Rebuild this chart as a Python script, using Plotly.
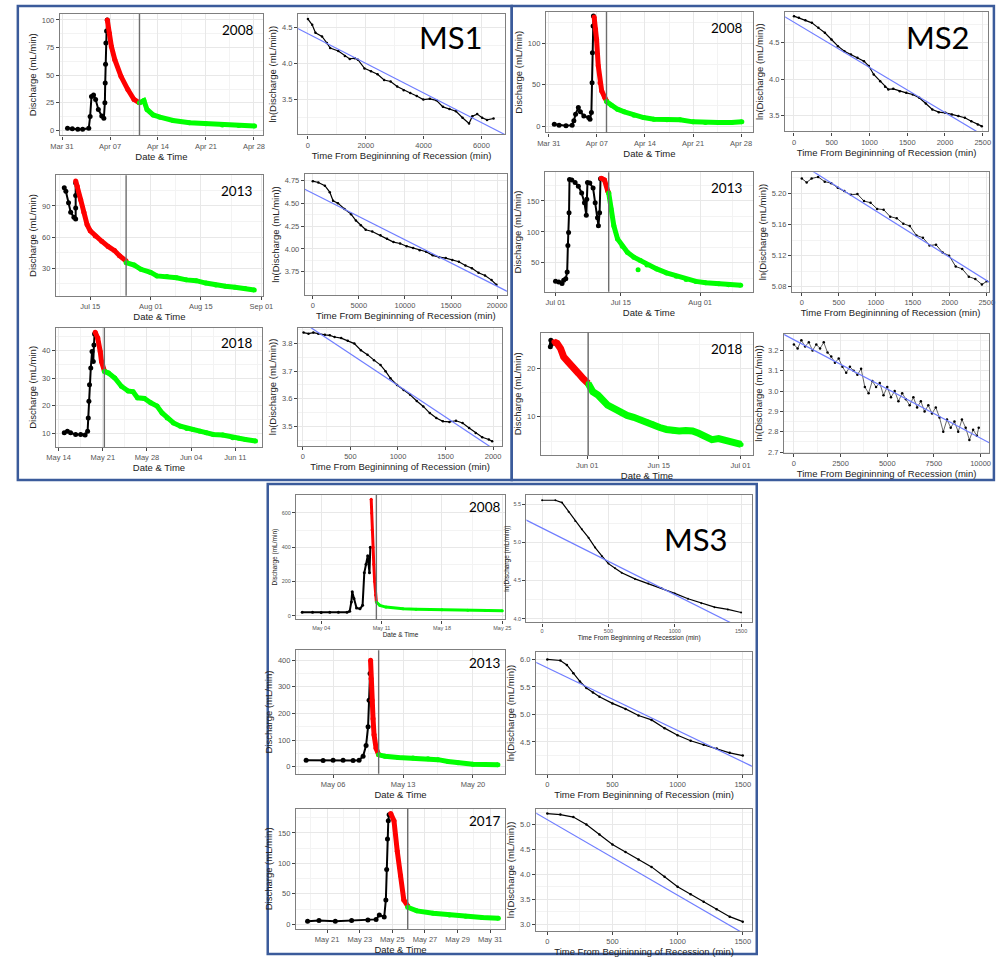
import pandas as pd
import plotly.graph_objects as go

FIG_W, FIG_H = 999, 961

# ======================= DATA =======================
# ---- MS1 2008 (discharge, days after 2008-03-31) ----
ms1_08_base = "2008-03-31"
ms1_08_black_d = [0.8, 1.5, 2.3, 3.0, 3.9, 4.1, 4.3, 4.6, 4.9, 5.3, 5.8, 6.1, 6.25, 6.3, 6.35, 6.4, 6.5, 6.6]
ms1_08_black_q = [2, 1.5, 1, 1.2, 2, 12.6, 30.7, 32, 28, 19, 13, 11, 25, 43, 60, 79, 90, 100]
ms1_08_red_d = [6.6, 6.9, 7.2, 7.7, 8.6, 9.6, 10.5, 11.3]
ms1_08_red_q = [100, 88, 76, 64, 49, 37, 28, 25]
ms1_08_green_d = [11.3, 11.95, 12.4, 13.3, 14.3, 16.2, 18.6, 21.0, 23.4, 25.8, 28.1]
ms1_08_green_q = [25, 27, 19, 14, 12, 9, 7, 6, 5, 4.5, 4]
ms1_08_split = 11.3
ms1_08_xtick_d = [0, 7, 14, 21, 28]
ms1_08_xlabels = ["Mar 31", "Apr 07", "Apr 14", "Apr 21", "Apr 28"]
ms1_08_yticks = [0, 25, 50, 75, 100]
# ln recession
ms1_08_ln_t = [0, 147, 260, 486, 655, 768, 1050, 1277, 1446, 1616, 1729, 1955, 2181, 2407, 2633, 2859,
               3085, 3311, 3537, 3763, 3989, 4215, 4441, 4667, 4893, 5119, 5345, 5571, 5684, 5853, 6023, 6192, 6418]
ms1_08_ln_y = [4.61, 4.53, 4.42, 4.37, 4.28, 4.21, 4.17, 4.10, 4.06, 4.07, 4.05, 3.93, 3.89, 3.85, 3.77, 3.75,
               3.68, 3.63, 3.59, 3.55, 3.50, 3.51, 3.49, 3.40, 3.37, 3.34, 3.25, 3.17, 3.27, 3.30, 3.25, 3.22, 3.24]
ms1_08_fit_t = [-400, 6900]
ms1_08_fit_y = [4.49, 3.00]
ms1_08_ln_xticks = [0, 2000, 4000, 6000]
ms1_08_ln_yticks = [3.5, 4.0, 4.5]

# ---- MS1 2013 (days after 2013-07-15) ----
ms1_13_base = "2013-07-15"
ms1_13_black_d = [-7.3, -6.85, -6.1, -5.5, -4.6, -4.1, -4.1, -4.1, -4.1]
ms1_13_black_q = [107.6, 104, 93, 84, 79, 77.5, 88, 100, 112]
ms1_13_red_d = [-4.1, -3.65, -2.7, -1.8, -0.9, 0, 1.4, 3.2, 5.0, 6.8, 8.2, 10.05]
ms1_13_red_q = [114, 109, 96, 84, 72, 66, 61, 56, 51, 47, 42, 37]
ms1_13_green_d = [10.05, 12.3, 14.2, 16.9, 18.7, 21.5, 24.2, 26.9, 29.7, 32.4, 35.2, 37.9, 40.6, 43.4, 46]
ms1_13_green_q = [35.4, 33, 29, 26, 22.6, 22, 20.8, 18.8, 18, 15.7, 13.8, 12.6, 11.6, 10.6, 9]
ms1_13_split = 10.05
ms1_13_xtick_d = [0, 17, 31, 48]
ms1_13_xlabels = ["Jul 15", "Aug 01", "Aug 15", "Sep 01"]
ms1_13_yticks = [30, 60, 90]
ms1_13_ln_t = [0, 600, 1310, 1840, 2200, 2730, 3440, 4150, 4680, 5210, 5740, 6450, 7340, 8050, 8760, 9470,
               10180, 10890, 11600, 12300, 13010, 13720, 14430, 15140, 15850, 16560, 17270, 17980, 18690, 19400, 19930]
ms1_13_ln_y = [4.74, 4.725, 4.69, 4.62, 4.526, 4.50, 4.436, 4.38, 4.31, 4.26, 4.21, 4.19, 4.15, 4.11, 4.075, 4.06,
               4.03, 4.01, 3.985, 3.97, 3.93, 3.91, 3.90, 3.88, 3.86, 3.82, 3.79, 3.74, 3.71, 3.66, 3.61]
ms1_13_fit_t = [-1000, 21500]
ms1_13_fit_y = [4.658, 3.517]
ms1_13_ln_xticks = [0, 5000, 10000, 15000, 20000]
ms1_13_ln_yticks = [3.75, 4.00, 4.25, 4.50, 4.75]

# ---- MS1 2018 (days after 2018-05-14) ----
ms1_18_base = "2018-05-14"
ms1_18_black_d = [0.9, 1.4, 1.9, 2.7, 3.5, 4.2, 4.6, 4.7, 4.8, 4.9, 5.1, 5.3, 5.5, 5.6, 5.7]
ms1_18_black_q = [10.1, 10.7, 10.1, 9.5, 9.5, 9.3, 10.7, 15.5, 21.6, 27.6, 33.6, 39.6, 36, 42, 46]
ms1_18_red_d = [5.8, 6.2, 6.6, 6.8, 7.25]
ms1_18_red_q = [46.6, 44.5, 39.6, 36, 32.6]
ms1_18_green_d = [7.25, 7.9, 8.9, 9.95, 11, 11.8, 12.5, 13.6, 14.6, 15.6, 16.4, 17.2, 18.2, 19.3, 20.3, 21.3,
                  22.4, 23.4, 24.5, 26, 27.6, 28.6, 29.6, 31.2]
ms1_18_green_q = [32.4, 31.8, 30, 27, 25.3, 25, 22.8, 22.6, 21, 19.8, 17.3, 15.5, 13.7, 12.5, 11.7, 11.3,
                  10.7, 10.1, 9.5, 9.3, 8.3, 8.1, 7.7, 7.1]
ms1_18_split = 7.25
ms1_18_xtick_d = [0, 7, 14, 21, 28]
ms1_18_xlabels = ["May 14", "May 21", "May 28", "Jun 04", "Jun 11"]
ms1_18_yticks = [10, 20, 30, 40]
ms1_18_ln_t = [7, 59, 110, 162, 231, 283, 334, 403, 472, 541, 610, 679, 748, 817, 869, 921, 990, 1059, 1128,
               1197, 1266, 1334, 1403, 1472, 1541, 1610, 1679, 1748, 1817, 1886, 1955, 1990]
ms1_18_ln_y = [3.84, 3.836, 3.84, 3.836, 3.832, 3.83, 3.824, 3.82, 3.81, 3.80, 3.776, 3.76, 3.74, 3.722, 3.70,
               3.674, 3.65, 3.632, 3.614, 3.592, 3.572, 3.548, 3.53, 3.518, 3.516, 3.52, 3.512, 3.494, 3.476,
               3.46, 3.452, 3.446]
ms1_18_fit_t = [-60, 2100]
ms1_18_fit_y = [3.891, 3.396]
ms1_18_ln_xticks = [0, 500, 1000, 1500, 2000]
ms1_18_ln_yticks = [3.5, 3.6, 3.7, 3.8]

# ---- MS2 2008 (days after 2008-03-31) ----
ms2_08_base = "2008-03-31"
ms2_08_black_d = [0.8, 1.5, 2.5, 3.4, 3.65, 3.9, 4.3, 4.6, 5.1, 5.8, 6.0, 6.2, 6.3, 6.35, 6.45, 6.5]
ms2_08_black_q = [2.4, 1.2, 0.4, 1.2, 6.4, 14.5, 22.5, 17.3, 12.4, 10.4, 8.4, 16.5, 52.6, 88.8, 121, 133]
ms2_08_red_d = [6.6, 6.8, 6.95, 7.2, 7.45, 7.7, 8.15, 8.4]
ms2_08_red_q = [132, 117, 105, 73, 52.6, 42.6, 34.5, 30.5]
ms2_08_green_d = [8.4, 9.1, 10.0, 11.0, 12.4, 13.8, 15.3, 17.2, 19.1, 21.0, 22.8, 24.7, 26.6, 28.1]
ms2_08_green_q = [29.7, 25.3, 20.5, 17.3, 13.3, 10.4, 8.4, 7.6, 7.6, 5.2, 4.4, 4.4, 4.4, 5.2]
ms2_08_split = 8.4
ms2_08_xtick_d = [0, 7, 14, 21, 28]
ms2_08_xlabels = ["Mar 31", "Apr 07", "Apr 14", "Apr 21", "Apr 28"]
ms2_08_yticks = [0, 50, 100]
ms2_08_ln_t = [0, 65, 151, 237, 323, 409, 496, 582, 668, 754, 840, 927, 991, 1056, 1142, 1207, 1250, 1315,
               1401, 1487, 1573, 1659, 1746, 1832, 1918, 2004, 2091, 2177, 2263, 2349, 2435, 2487]
ms2_08_ln_y = [4.867, 4.844, 4.81, 4.775, 4.706, 4.638, 4.546, 4.454, 4.385, 4.339, 4.294, 4.248, 4.18, 4.064,
               3.972, 3.894, 3.858, 3.867, 3.835, 3.812, 3.789, 3.743, 3.665, 3.583, 3.546, 3.537, 3.514,
               3.491, 3.468, 3.42, 3.376, 3.353]
ms2_08_fit_t = [-150, 2600]
ms2_08_fit_y = [4.876, 3.168]
ms2_08_ln_xticks = [0, 500, 1000, 1500, 2000, 2500]
ms2_08_ln_yticks = [3.5, 4.0, 4.5]

# ---- MS2 2013 (days after 2013-07-01) ----
ms2_13_base = "2013-07-01"
ms2_13_black_d = [0, 0.7, 1.4, 1.75, 2.2, 2.5, 2.65, 2.8, 2.9, 3.0, 3.5, 4.2, 4.9, 5.6, 6.2, 6.6, 6.7, 6.85,
                  7.35, 8.05, 8.5, 9.0, 9.2, 9.45, 9.65]
ms2_13_black_q = [20, 19, 16.3, 21.7, 24.3, 35, 78, 99, 131, 185, 184, 180, 174, 163, 147, 127, 153, 180,
                  179, 171, 147, 123, 110, 131, 186]
ms2_13_red_d = [9.8, 10.5, 11.2, 11.4]
ms2_13_red_q = [187, 184, 166, 163]
ms2_13_green_d = [11.4, 11.9, 12.5, 13.3, 14.3, 15.4, 16.8, 18.2, 19.6, 21.7, 23.8, 25.9, 28, 30.1, 32.2,
                  35, 37.1, 39.7]
ms2_13_green_q = [163, 137, 110, 88.5, 76.7, 67, 59, 53.5, 46.5, 40, 33.6, 28.3, 23, 19.8, 17.6, 16, 14.4, 13.4]
ms2_13_out_d = [17.7]
ms2_13_out_q = [38.8]
ms2_13_split = 11.4
ms2_13_xtick_d = [0, 14, 31]
ms2_13_xlabels = ["Jul 01", "Jul 15", "Aug 01"]
ms2_13_yticks = [50, 100, 150]
ms2_13_ln_t = [0, 66, 133, 221, 310, 398, 487, 575, 664, 752, 841, 929, 1018, 1106, 1195, 1283, 1372, 1460,
               1549, 1637, 1726, 1814, 1903, 1991, 2080, 2168, 2257, 2345, 2434, 2500]
ms2_13_ln_y = [5.219, 5.214, 5.219, 5.221, 5.215, 5.213, 5.207, 5.203, 5.198, 5.199, 5.190, 5.188, 5.180,
               5.179, 5.170, 5.168, 5.161, 5.158, 5.146, 5.143, 5.133, 5.134, 5.124, 5.120, 5.106, 5.103,
               5.093, 5.090, 5.083, 5.087]
ms2_13_fit_t = [-200, 2700]
ms2_13_fit_y = [5.249, 5.076]
ms2_13_ln_xticks = [0, 500, 1000, 1500, 2000, 2500]
ms2_13_ln_yticks = [5.08, 5.12, 5.16, 5.20]

# ---- MS2 2018 (days after 2018-06-01) ----
ms2_18_base = "2018-06-01"
ms2_18_black_d = [-7.2, -7.1, -7.0, -6.9]
ms2_18_black_q = [24.5, 25.8, 25, 25.5]
ms2_18_red_d = [-6.5, -5.9, -5.2, -4.6, -3.6, -2.7, -1.7, -0.8, 0.2]
ms2_18_red_q = [25.5, 25.2, 24.1, 22.4, 21.2, 20.3, 19.0, 17.9, 16.9]
ms2_18_green_d = [0.2, 1.1, 2.1, 3.1, 4.0, 5.3, 6.6, 7.8, 9.1, 10.4, 11.7, 12.9, 14.2, 15.5, 16.8, 18.0,
                  19.3, 20.6, 21.8, 23.1, 24.4, 25.7, 26.9, 28.2, 29.5, 30.1]
ms2_18_green_q = [16.9, 15.2, 14.5, 13.4, 12.4, 11.7, 10.8, 10.3, 9.9, 9.3, 9.0, 8.5, 7.8, 7.4, 7.1, 7.1,
                  7.2, 7.1, 6.6, 5.9, 5.3, 5.5, 5.2, 4.8, 4.5, 4.3]
ms2_18_split = 0.2
ms2_18_xtick_d = [0, 14, 30]
ms2_18_xlabels = ["Jun 01", "Jun 15", "Jul 01"]
ms2_18_yticks = [10, 20]
ms2_18_ln_t = [0, 200, 400, 600, 800, 1000, 1200, 1400, 1600, 1800, 2000, 2200, 2400, 2600, 2800, 3000,
               3200, 3400, 3600, 3800, 4000, 4200, 4400, 4600, 4800, 5000, 5200, 5400, 5600, 5800, 6000,
               6200, 6400, 6600, 6800, 7000, 7200, 7400, 7600, 7800, 8000, 8200, 8400, 8600, 8800, 9000,
               9200, 9400, 9600, 9800, 9900]
ms2_18_ln_y = [3.23, 3.21, 3.25, 3.22, 3.24, 3.20, 3.23, 3.21, 3.24, 3.19, 3.17, 3.14, 3.16, 3.12, 3.09,
               3.12, 3.10, 3.08, 3.11, 3.02, 2.99, 3.05, 3.02, 3.04, 2.98, 3.02, 2.97, 3.00, 2.95, 2.99,
               2.96, 2.93, 2.97, 2.92, 2.95, 2.90, 2.93, 2.89, 2.92, 2.87, 2.80, 2.86, 2.82, 2.85, 2.80,
               2.86, 2.82, 2.76, 2.81, 2.78, 2.82]
ms2_18_fit_t = [-600, 10600]
ms2_18_fit_y = [3.282, 2.739]
ms2_18_ln_xticks = [0, 2500, 5000, 7500, 10000]
ms2_18_ln_yticks = [2.7, 2.8, 2.9, 3.0, 3.1, 3.2]

# ---- MS3 2008 (days after 2008-05-04) ----
ms3_08_base = "2008-05-04"
ms3_08_black_d = [-2.2, -1, 0, 1, 2, 3, 3.3, 3.5, 3.6, 3.8, 4.1, 4.5, 4.8, 5.0, 5.2, 5.4, 5.6, 5.7]
ms3_08_black_q = [20, 20, 18, 20, 20, 20, 25, 80, 140, 100, 45, 40, 60, 250, 300, 350, 250, 400]
ms3_08_red_d = [5.8, 5.85, 5.9, 6.0, 6.1, 6.2, 6.3, 6.4]
ms3_08_red_q = [680, 600, 500, 400, 300, 200, 120, 80]
ms3_08_green_d = [6.4, 6.8, 7.5, 9.5, 11, 14, 17, 19, 21]
ms3_08_green_q = [80, 60, 50, 40, 38, 35, 32, 30, 28]
ms3_08_split = 6.4
ms3_08_xtick_d = [0, 7, 14, 21]
ms3_08_xlabels = ["May 04", "May 11", "May 18", "May 25"]
ms3_08_yticks = [0, 200, 400, 600]
ms3_08_ln_t = [0, 100, 150, 200, 250, 300, 350, 400, 450, 500, 550, 600, 700, 800, 900, 1000, 1100, 1200,
               1300, 1400, 1500]
ms3_08_ln_y = [5.55, 5.55, 5.52, 5.4, 5.28, 5.17, 5.06, 4.93, 4.82, 4.72, 4.66, 4.6, 4.52, 4.46, 4.4, 4.33,
               4.26, 4.2, 4.15, 4.12, 4.08]
ms3_08_fit_t = [-300, 1600]
ms3_08_fit_y = [5.447, 3.79]
ms3_08_ln_xticks = [0, 500, 1000, 1500]
ms3_08_ln_yticks = [4.0, 4.5, 5.0, 5.5]

# ---- MS3 2013 (days after 2013-05-06) ----
ms3_13_base = "2013-05-06"
ms3_13_black_d = [-2.7, -1, 0, 1, 2, 2.6, 3.0, 3.3, 3.5, 3.6, 3.7]
ms3_13_black_q = [25, 24, 25, 25, 24, 25, 40, 80, 150, 250, 350]
ms3_13_red_d = [3.75, 3.8, 3.9, 4.0, 4.1, 4.3, 4.56]
ms3_13_red_q = [400, 330, 250, 180, 120, 70, 45]
ms3_13_green_d = [4.56, 5.2, 6.5, 8, 9.5, 10.5, 11.5, 12.5, 14, 16.5]
ms3_13_green_q = [45, 40, 35, 33, 30, 27, 20, 15, 10, 8]
ms3_13_split = 4.56
ms3_13_xtick_d = [0, 7, 14]
ms3_13_xlabels = ["May 06", "May 13", "May 20"]
ms3_13_yticks = [0, 100, 200, 300, 400]
ms3_13_ln_t = [0, 100, 150, 200, 250, 300, 350, 400, 500, 600, 700, 800, 900, 1000, 1100, 1200, 1300, 1400, 1500]
ms3_13_ln_y = [6.0, 5.98, 5.9, 5.75, 5.6, 5.48, 5.4, 5.32, 5.2, 5.1, 4.98, 4.9, 4.75, 4.62, 4.52, 4.45, 4.38,
               4.3, 4.25]
ms3_13_fit_t = [-300, 1700]
ms3_13_fit_y = [6.19, 3.91]
ms3_13_ln_xticks = [0, 500, 1000, 1500]
ms3_13_ln_yticks = [4.5, 5.0, 5.5, 6.0]

# ---- MS3 2017 (days after 2017-05-21) ----
ms3_17_base = "2017-05-21"
ms3_17_black_d = [-1.2, -0.5, 0.5, 1.5, 2.5, 3.0, 3.2, 3.5, 3.6, 3.65, 3.7, 3.75, 3.8]
ms3_17_black_q = [5, 6, 5, 6, 7, 8, 15, 12, 40, 90, 140, 170, 180]
ms3_17_red_d = [3.9, 4.1, 4.3, 4.5, 4.7, 4.94]
ms3_17_red_q = [182, 170, 120, 80, 40, 30]
ms3_17_green_d = [4.94, 5.5, 6.5, 7.5, 8.5, 9.5, 10.5]
ms3_17_green_q = [28, 22, 18, 15, 13, 11, 10]
ms3_17_split = 4.94
ms3_17_xtick_d = [0, 2, 4, 6, 8, 10]
ms3_17_xlabels = ["May 21", "May 23", "May 25", "May 27", "May 29", "May 31"]
ms3_17_yticks = [0, 50, 100, 150]
ms3_17_ln_t = [0, 100, 200, 300, 400, 500, 600, 700, 800, 900, 1000, 1100, 1200, 1300, 1400, 1500]
ms3_17_ln_y = [5.22, 5.2, 5.15, 5.0, 4.8, 4.6, 4.45, 4.3, 4.15, 3.95, 3.75, 3.6, 3.45, 3.3, 3.15, 3.05]
ms3_17_fit_t = [-200, 1700]
ms3_17_fit_y = [5.40, 2.52]
ms3_17_ln_xticks = [0, 500, 1000, 1500]
ms3_17_ln_yticks = [3.0, 3.5, 4.0, 4.5, 5.0]

# ======================= STYLE =======================
FONT = "Liberation Sans, Arial, sans-serif"
LABEL_FONT = "Lato, Open Sans, sans-serif"
BORDER = "#7f7f7f"
GRID = "#e8e8e8"
MINOR = "#f3f3f3"
TICKC = "#555555"
BLUE_BOX = "#3b5b9b"
FIT = "#6f7dff"


def px_x(l, r):
    return [l / FIG_W, r / FIG_W]


def px_y(t, b):
    return [1 - b / FIG_H, 1 - t / FIG_H]


def to_dates(base, offs):
    b = pd.Timestamp(base)
    return [b + pd.Timedelta(days=float(d)) for d in offs]


def minor_mid(vals, lo, hi):
    out = []
    step = vals[1] - vals[0]
    ext = [vals[0] - step] + list(vals) + [vals[-1] + step]
    for a, b in zip(ext[:-1], ext[1:]):
        m = a + (b - a) / 2
        if lo <= m <= hi:
            out.append(m)
    return out


fig = go.Figure()
layout = {}
shapes = []
annotations = []
counter = [0]


def axis_base(fs_tick):
    return dict(showline=True, mirror=True, linecolor=BORDER, linewidth=1.4, ticks="outside", ticklen=3,
                tickcolor="#444", tickwidth=1, showgrid=True, gridcolor=GRID, gridwidth=1, zeroline=False,
                tickfont=dict(size=fs_tick, color=TICKC, family=FONT))


def new_axes():
    counter[0] += 1
    n = counter[0]
    s = "" if n == 1 else str(n)
    return n, s


def q_panel(box, base, xr, yr, xtick_d, xlabels, yticks, black, red, green, split, year,
            fs_tick=7.5, fs_title=9.5, extra=None, msize=5, lw=5, year_xy=(0.875, 0.87), year_fs=13.5):
    n, s = new_axes()
    xa, ya = "x" + s, "y" + s
    bd, bq = black
    rd, rq = red
    gd, gq = green
    fig.add_trace(go.Scatter(x=to_dates(base, bd), y=bq, mode="lines+markers", xaxis=xa, yaxis=ya,
                             line=dict(color="black", width=2), marker=dict(color="black", size=msize)))
    fig.add_trace(go.Scatter(x=to_dates(base, rd), y=rq, mode="lines+markers", xaxis=xa, yaxis=ya,
                             line=dict(color="#ff0000", width=lw), marker=dict(color="#ff0000", size=msize)))
    fig.add_trace(go.Scatter(x=to_dates(base, gd), y=gq, mode="lines+markers", xaxis=xa, yaxis=ya,
                             line=dict(color="#00ff00", width=lw), marker=dict(color="#00ff00", size=msize)))
    if extra is not None:
        fig.add_trace(go.Scatter(x=to_dates(base, extra[0]), y=extra[1], mode="markers", xaxis=xa, yaxis=ya,
                                 marker=dict(color="#00ff00", size=msize)))
    l, r, t, b = box
    xt = to_dates(base, xtick_d)
    xmin = minor_mid(xtick_d, xr[0], xr[1])
    xax = axis_base(fs_tick)
    xax.update(domain=px_x(l, r), anchor=ya, type="date", range=to_dates(base, xr), tickmode="array",
               tickvals=xt, ticktext=xlabels,
               minor=dict(tickmode="array", tickvals=to_dates(base, xmin), showgrid=True, gridcolor=MINOR,
                          gridwidth=0.7, ticks=""),
               title=dict(text="Date & Time", font=dict(size=fs_title, color="#222", family=FONT), standoff=2))
    yax = axis_base(fs_tick)
    ymin = minor_mid(yticks, yr[0], yr[1]) if len(yticks) > 1 else []
    yax.update(domain=px_y(t, b), anchor=xa, range=list(yr), tickmode="array", tickvals=yticks,
               minor=dict(tickmode="array", tickvals=ymin, showgrid=True, gridcolor=MINOR, gridwidth=0.7, ticks=""),
               title=dict(text="Discharge (mL/min)", font=dict(size=fs_title, color="#222", family=FONT), standoff=3))
    layout["xaxis" + s] = xax
    layout["yaxis" + s] = yax
    sd = to_dates(base, [split])[0]
    shapes.append(dict(type="line", xref=xa, yref=ya + " domain", x0=sd, x1=sd, y0=0, y1=1,
                       line=dict(color="#6e6e6e", width=1.4)))
    annotations.append(dict(text=year, xref=xa + " domain", yref=ya + " domain", x=year_xy[0], y=year_xy[1],
                            showarrow=False, xanchor="center", yanchor="middle",
                            font=dict(size=year_fs, color="black", family=LABEL_FONT)))


def ln_panel(box, xr, yr, t_vals, y_vals, fit_t, fit_y, xticks, yticks, yfmt,
             fs_tick=7.5, fs_title=9.5, msize=2.5, lw=1.2):
    n, s = new_axes()
    xa, ya = "x" + s, "y" + s
    fig.add_trace(go.Scatter(x=t_vals, y=y_vals, mode="lines+markers", xaxis=xa, yaxis=ya,
                             line=dict(color="black", width=lw), marker=dict(color="black", size=msize)))
    fig.add_trace(go.Scatter(x=fit_t, y=fit_y, mode="lines", xaxis=xa, yaxis=ya,
                             line=dict(color=FIT, width=1.2)))
    l, r, t, b = box
    xax = axis_base(fs_tick)
    xax.update(domain=px_x(l, r), anchor=ya, range=list(xr), tickmode="array", tickvals=xticks,
               tickformat="d",
               minor=dict(tickmode="array", tickvals=minor_mid(xticks, xr[0], xr[1]), showgrid=True,
                          gridcolor=MINOR, gridwidth=0.7, ticks=""),
               title=dict(text="Time From Begininning of Recession (min)",
                          font=dict(size=fs_title, color="#222", family=FONT), standoff=2))
    yax = axis_base(fs_tick)
    yax.update(domain=px_y(t, b), anchor=xa, range=list(yr), tickmode="array", tickvals=yticks,
               tickformat=yfmt,
               minor=dict(tickmode="array", tickvals=minor_mid(yticks, yr[0], yr[1]), showgrid=True,
                          gridcolor=MINOR, gridwidth=0.7, ticks=""),
               title=dict(text="ln(Discharge (mL/min))", font=dict(size=fs_title, color="#222", family=FONT),
                          standoff=3))
    layout["xaxis" + s] = xax
    layout["yaxis" + s] = yax


# ======================= MS1 =======================
q_panel((51, 258, 14, 136), ms1_08_base, (-0.3, 29.3), (-4.5, 105.4), ms1_08_xtick_d, ms1_08_xlabels,
        ms1_08_yticks, (ms1_08_black_d, ms1_08_black_q), (ms1_08_red_d, ms1_08_red_q),
        (ms1_08_green_d, ms1_08_green_q), ms1_08_split, "2008")
ln_panel((294, 505, 14, 135), (-340, 6810), (3.02, 4.68), ms1_08_ln_t, ms1_08_ln_y, ms1_08_fit_t, ms1_08_fit_y,
         ms1_08_ln_xticks, ms1_08_ln_yticks, ".1f")
q_panel((47, 258, 176, 297), ms1_13_base, (-9.6, 48.4), (3.5, 119.5), ms1_13_xtick_d, ms1_13_xlabels,
        ms1_13_yticks, (ms1_13_black_d, ms1_13_black_q), (ms1_13_red_d, ms1_13_red_q),
        (ms1_13_green_d, ms1_13_green_q), ms1_13_split, "2013")
ln_panel((301, 507, 175, 296), (-850, 21060), (3.5, 4.815), ms1_13_ln_t, ms1_13_ln_y, ms1_13_fit_t, ms1_13_fit_y,
         ms1_13_ln_xticks, ms1_13_ln_yticks, ".2f")
q_panel((47, 257, 329, 449), ms1_18_base, (-0.4, 32.2), (4.9, 48.3), ms1_18_xtick_d, ms1_18_xlabels,
        ms1_18_yticks, (ms1_18_black_d, ms1_18_black_q), (ms1_18_red_d, ms1_18_red_q),
        (ms1_18_green_d, ms1_18_green_q), ms1_18_split, "2018")
ln_panel((294, 502, 329, 448), (-50, 2093), (3.428, 3.858), ms1_18_ln_t, ms1_18_ln_y, ms1_18_fit_t, ms1_18_fit_y,
         ms1_18_ln_xticks, ms1_18_ln_yticks, ".1f")

# ======================= MS2 =======================
q_panel((547, 758, 12, 133), ms2_08_base, (-0.4, 29.7), (-7.6, 138), ms2_08_xtick_d, ms2_08_xlabels,
        ms2_08_yticks, (ms2_08_black_d, ms2_08_black_q), (ms2_08_red_d, ms2_08_red_q),
        (ms2_08_green_d, ms2_08_green_q), ms2_08_split, "2008")
ln_panel((791, 998, 12, 132), (-117, 2570), (3.28, 4.925), ms2_08_ln_t, ms2_08_ln_y, ms2_08_fit_t, ms2_08_fit_y,
         ms2_08_ln_xticks, ms2_08_ln_yticks, ".1f")
q_panel((546, 758, 173, 293), ms2_13_base, (-2.24, 42.3), (3, 196.5), ms2_13_xtick_d, ms2_13_xlabels,
        ms2_13_yticks, (ms2_13_black_d, ms2_13_black_q), (ms2_13_red_d, ms2_13_red_q),
        (ms2_13_green_d, ms2_13_green_q), ms2_13_split, "2013", extra=(ms2_13_out_d, ms2_13_out_q))
ln_panel((798, 999, 173, 293), (-132, 2530), (5.0736, 5.227), ms2_13_ln_t, ms2_13_ln_y, ms2_13_fit_t,
         ms2_13_fit_y, ms2_13_ln_xticks, ms2_13_ln_yticks, ".2f", lw=0.8)
q_panel((542, 758, 334, 457), ms2_18_base, (-9.0, 32.4), (2.1, 27.4), ms2_18_xtick_d, ms2_18_xlabels,
        ms2_18_yticks, (ms2_18_black_d, ms2_18_black_q), (ms2_18_red_d, ms2_18_red_q),
        (ms2_18_green_d, ms2_18_green_q), ms2_18_split, "2018", lw=7)
ln_panel((790, 999, 335, 455), (-520, 10450), (2.695, 3.283), ms2_18_ln_t, ms2_18_ln_y, ms2_18_fit_t,
         ms2_18_fit_y, ms2_18_ln_xticks, ms2_18_ln_yticks, ".1f", lw=0.6)

# ======================= MS3 =======================
q_panel((292, 505, 497, 622), ms3_08_base, (-2.9, 21.3), (-22, 705), ms3_08_xtick_d, ms3_08_xlabels,
        ms3_08_yticks, (ms3_08_black_d, ms3_08_black_q), (ms3_08_red_d, ms3_08_red_q),
        (ms3_08_green_d, ms3_08_green_q), ms3_08_split, "2008", fs_tick=5.5, fs_title=6.5, msize=3, lw=3,
        year_xy=(0.9, 0.9))
ln_panel((527, 757, 497, 625), (-118, 1581), (3.95, 5.62), ms3_08_ln_t, ms3_08_ln_y, ms3_08_fit_t, ms3_08_fit_y,
         ms3_08_ln_xticks, ms3_08_ln_yticks, ".1f", fs_tick=5.5, fs_title=6.5, msize=2)
q_panel((292, 505, 653, 777), ms3_13_base, (-3.7, 17.2), (-26, 437), ms3_13_xtick_d, ms3_13_xlabels,
        ms3_13_yticks, (ms3_13_black_d, ms3_13_black_q), (ms3_13_red_d, ms3_13_red_q),
        (ms3_13_green_d, ms3_13_green_q), ms3_13_split, "2013", year_xy=(0.9, 0.9))
ln_panel((537, 757, 655, 777), (-85, 1570), (3.92, 6.13), ms3_13_ln_t, ms3_13_ln_y, ms3_13_fit_t, ms3_13_fit_y,
         ms3_13_ln_xticks, ms3_13_ln_yticks, ".1f")
q_panel((292, 505, 812, 933), ms3_17_base, (-1.9, 10.9), (-8, 190), ms3_17_xtick_d, ms3_17_xlabels,
        ms3_17_yticks, (ms3_17_black_d, ms3_17_black_q), (ms3_17_red_d, ms3_17_red_q),
        (ms3_17_green_d, ms3_17_green_q), ms3_17_split, "2017", year_xy=(0.9, 0.9))
ln_panel((537, 757, 812, 935), (-85, 1570), (2.86, 5.32), ms3_17_ln_t, ms3_17_ln_y, ms3_17_fit_t, ms3_17_fit_y,
         ms3_17_ln_xticks, ms3_17_ln_yticks, ".1f")

# ======================= BOXES & LABELS =======================
def box_rect(l, t, r, b):
    shapes.append(dict(type="rect", xref="paper", yref="paper", x0=l / FIG_W, x1=r / FIG_W,
                       y0=1 - b / FIG_H, y1=1 - t / FIG_H, line=dict(color=BLUE_BOX, width=2.5),
                       fillcolor="rgba(0,0,0,0)", layer="above"))


box_rect(8, 6, 512, 482)
box_rect(512, 6, 1004, 482)
box_rect(263, 486, 762, 958)

for txt, x, y in [("MS1", 450, 37), ("MS2", 947, 37), ("MS3", 700, 541)]:
    annotations.append(dict(text=txt, xref="paper", yref="paper", x=x / FIG_W, y=1 - y / FIG_H,
                            showarrow=False, xanchor="center", yanchor="middle",
                            font=dict(size=31, color="black", family=LABEL_FONT)))

fig.update_layout(**layout)
fig.update_layout(width=FIG_W, height=FIG_H, margin=dict(l=0, r=0, t=0, b=0),
                  paper_bgcolor="white", plot_bgcolor="white", showlegend=False,
                  shapes=shapes, annotations=annotations, font=dict(family=FONT))
fig.write_html("out.html")
